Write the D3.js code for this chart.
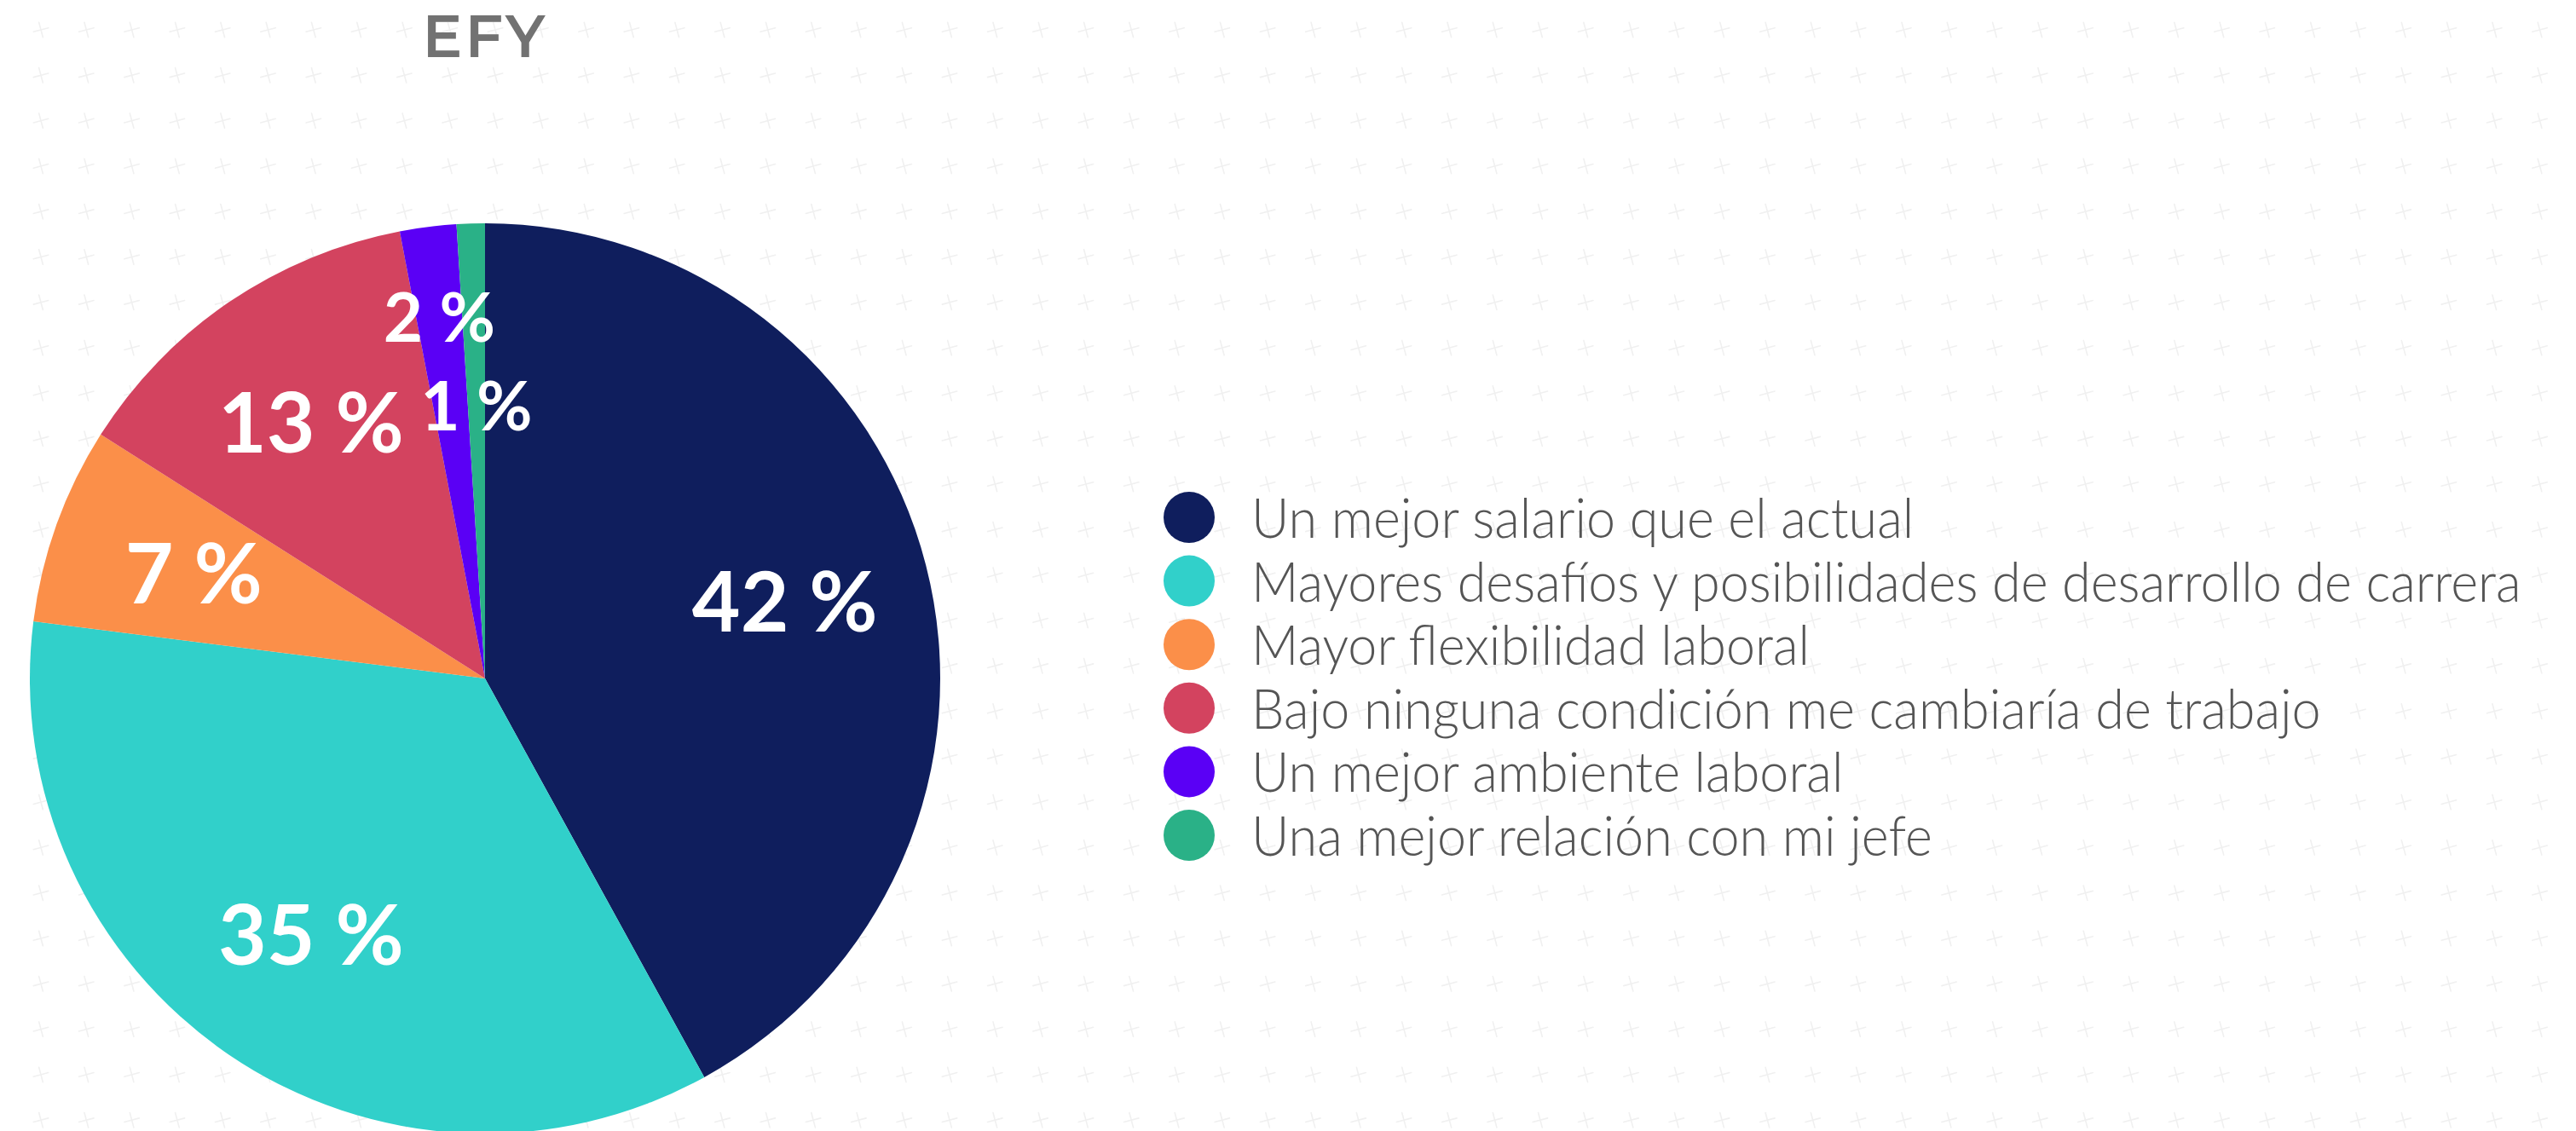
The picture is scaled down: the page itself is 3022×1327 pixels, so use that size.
<!DOCTYPE html>
<html>
<head>
<meta charset="utf-8">
<script src="https://cdn.jsdelivr.net/npm/d3@7"></script>
<style>
    html, body { margin: 0; padding: 0; background: #fff; overflow: hidden; }
</style>
</head>
<body>
<script>
var width = 3022,
    height = 1327;

// data
var categories = [
    "Un mejor salario que el actual",
    "Mayores desafíos y posibilidades de desarrollo de carrera",
    "Mayor flexibilidad laboral",
    "Bajo ninguna condición me cambiaría de trabajo",
    "Un mejor ambiente laboral",
    "Una mejor relación con mi jefe"
];
var values = [42, 35, 7, 13, 2, 1];
var colors = ["#0f1e5d", "#31d0ca", "#fb8f49", "#d3435f", "#5a00f5", "#2ab187"];
var title = "EFY";

var svg = d3.select("body").append("svg")
    .attr("width", width)
    .attr("height", height);

// background: faint crosses
var bg = svg.append("g").attr("class", "pattern");
for (var gx = 48; gx < width + 30; gx += 53.3) {
    for (var gy = 35; gy < height + 30; gy += 53.3) {
        var c = bg.append("g")
            .attr("transform", "translate(" + gx + "," + gy + ") rotate(-15)");
        c.append("line").attr("x1", -9).attr("x2", 9).attr("y1", 0).attr("y2", 0);
        c.append("line").attr("x1", 0).attr("x2", 0).attr("y1", -9).attr("y2", 9);
    }
}
bg.selectAll("line")
    .attr("stroke", "#f0f0f0")
    .attr("stroke-width", 1.6)
    .attr("stroke-linecap", "round");

var cx = 569, cy = 796, radius = 534;

svg.append("text")
    .attr("x", cx)
    .attr("y", 67)
    .attr("text-anchor", "middle")
    .style("font-family", "Montserrat, 'Open Sans', sans-serif")
    .style("font-weight", 600)
    .style("font-size", "70px")
    .style("letter-spacing", "3px")
    .style("fill", "#727272")
    .text(title);

var pie = d3.pie().sort(null).value(function (d) { return d; });
var arcs = pie(values);
var arc = d3.arc().innerRadius(0).outerRadius(radius);

var chart = svg.append("g").attr("transform", "translate(" + cx + "," + cy + ")");

chart.selectAll("path")
    .data(arcs)
    .enter()
    .append("path")
    .attr("d", arc)
    .style("fill", function (d, i) { return colors[i]; });

// tiny slices get their labels staggered in/out so they don't collide
var small = 0;
chart.selectAll("text.pct")
    .data(arcs)
    .enter()
    .append("text")
    .attr("class", "pct")
    .attr("transform", function (d) {
        var r = radius * 0.68;
        if (d.value < 5) {
            r = small % 2 == 0 ? radius * 0.8 : radius * 0.6;
            small += 1;
        }
        var p = d3.arc().innerRadius(r).outerRadius(r).centroid(d);
        return "translate(" + p[0] + "," + p[1] + ")";
    })
    .attr("text-anchor", "middle")
    .attr("dy", "0.36em")
    .style("font-family", "'Gill Sans', Lato, sans-serif")
    .style("font-weight", 700)
    .style("font-size", function (d) { return d.value < 5 ? "80px" : "98px"; })
    .style("fill", "#fff")
    .text(function (d) { return d.value + " %"; });

// legend
var legend = svg.append("g").attr("transform", "translate(1395,607)");
var rowStep = 74.6;

legend.selectAll("circle")
    .data(categories)
    .enter()
    .append("circle")
    .attr("cx", 0)
    .attr("cy", function (d, i) { return i * rowStep; })
    .attr("r", 30)
    .style("fill", function (d, i) { return colors[i]; });

var labels = legend.append("g").attr("transform", "translate(73,0)");
var txt = labels.selectAll("text")
    .data(categories)
    .enter()
    .append("text")
    .attr("x", 0)
    .attr("y", function (d, i) { return i * rowStep + 24; })
    .style("font-family", "'Gill Sans', Lato, sans-serif")
    .style("font-weight", 300)
    .style("font-size", "66px")
    .style("fill", "#555555")
    .text(function (d) { return d; });

// squeeze the text horizontally so the longest line spans like the original
var longest = d3.max(txt.nodes(), function (n) { return n.getComputedTextLength(); });
var sx = 1490 / longest;
txt.attr("transform", "scale(" + sx + ",1)");
</script>
</body>
</html>
